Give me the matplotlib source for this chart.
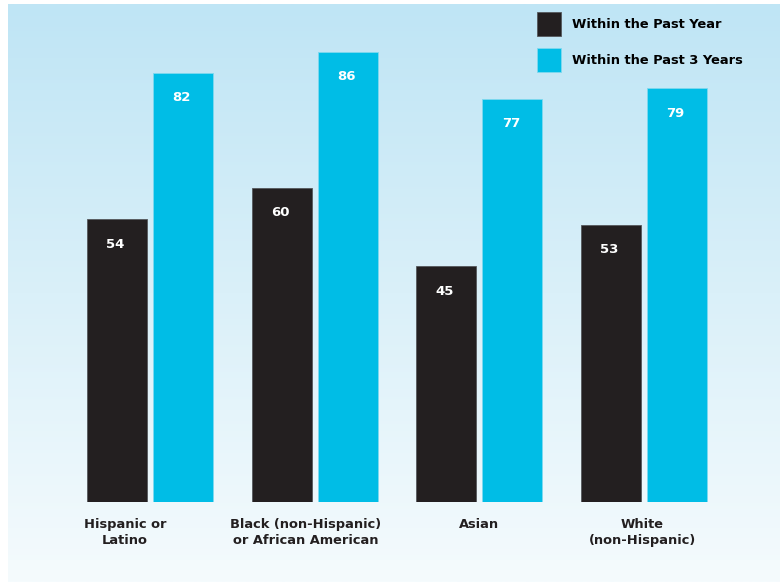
import numpy as np
import matplotlib
matplotlib.use("Agg")
import matplotlib.pyplot as plt
from matplotlib.colors import LinearSegmentedColormap
from matplotlib.patches import Rectangle

categories = ["Hispanic or\nLatino", "Black (non-Hispanic)\nor African American", "Asian", "White\n(non-Hispanic)"]
past_year = [54, 60, 45, 53]
past_3_years = [82, 86, 77, 79]
series_names = ["Within the Past Year", "Within the Past 3 Years"]

DARK = "#231F20"
CYAN = "#00BDE6"
FONT = "DejaVu Sans"

W, H = 780, 584
fig = plt.figure(figsize=(W / 100, H / 100), dpi=100)
fig.patch.set_facecolor("white")

# gradient background panel
bg = fig.add_axes([8 / W, 2 / H, (W - 8) / W, (H - 6) / H])
cmap = LinearSegmentedColormap.from_list("bg", ["#F5FBFD", "#BFE5F5"])
grad = np.linspace(0, 1, 256).reshape(-1, 1)
bg.imshow(grad, aspect="auto", cmap=cmap, origin="lower", extent=[0, 1, 0, 1])
bg.set_axis_off()

# data axes
px_per_unit = 5.235
base_px = 502
ax = fig.add_axes([8 / W, (H - base_px) / H, (W - 8) / W, (base_px - 4) / H])
ax.patch.set_alpha(0)
ax.set_ylim(0, (base_px - 4) / px_per_unit)
spacing = 164.67
x0_px = 150
ax.set_xlim((8 - x0_px) / spacing, (780 - x0_px) / spacing)

x = np.arange(len(categories))
w = 60 / spacing
off = 0.2
ax.bar(x - off, past_year, width=w, color=DARK, edgecolor="#55585c", linewidth=0.6)
ax.bar(x + off, past_3_years, width=w, color=CYAN, edgecolor="#7fd9ef", linewidth=0.6)

lab_off = 25 / px_per_unit
for xs, vals in ((x - off, past_year), (x + off, past_3_years)):
    for xi, v in zip(xs, vals):
        ax.text(xi - 1.5 / spacing, v - lab_off, str(v), ha="center", va="center", color="white",
                fontsize=9.5, fontweight="bold", family=FONT)

# category label horizontal shifts (pixels) relative to group centre
label_shift_px = [-25, -9, 0, -2]
for xi, c, s in zip(x, categories, label_shift_px):
    ax.text(xi + s / spacing, -(518 - base_px) / px_per_unit, c, ha="center", va="top", color=DARK,
            fontsize=9.4, fontweight="bold", family=FONT, linespacing=1.3)

ax.set_axis_off()

# legend
for i, (name, col) in enumerate(zip(series_names, [DARK, CYAN])):
    top = 12 + i * 36
    fig.patches.append(Rectangle((537 / W, (H - top - 24) / H), 24 / W, 24 / H,
                                 transform=fig.transFigure, facecolor=col,
                                 edgecolor="#55585c" if i == 0 else "#7fd9ef", linewidth=0.6))
    fig.text(572 / W, (H - top - 13) / H, name, ha="left", va="center", color="black",
             fontsize=9.4, fontweight="bold", family=FONT)

fig.savefig("out.png", dpi=100)
